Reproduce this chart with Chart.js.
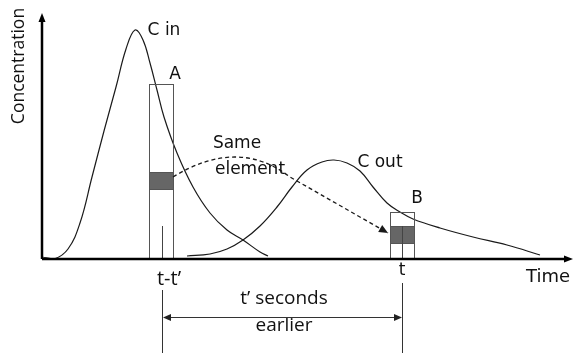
<!DOCTYPE html>
<html>
<head>
<meta charset="utf-8">
<script src="https://cdn.jsdelivr.net/npm/chart.js@4"></script>
<style>
  html, body { margin: 0; padding: 0; background: #fff; }
  #wrap { width: 574px; height: 353px; }
</style>
</head>
<body>
<div id="wrap"><canvas id="diagram"></canvas></div>
<script>
// curve values (time, concentration)
const cInTime = [0, 12, 26, 38, 50, 62, 74, 84, 93, 101, 108, 115, 122, 135, 151, 168, 185, 201, 218, 226];
const cInConc = [2, 0, 10, 36, 82, 128, 172, 210, 229, 219, 196, 169, 142, 106, 72, 46, 29, 19, 7, 3];
const cOutTime = [145, 168, 185, 201, 218, 235, 250, 265, 280, 292, 305, 318, 331, 345, 358, 371, 398, 431, 465, 498];
const cOutConc = [3, 5, 10, 19, 33, 52, 72, 89, 97, 99, 96, 88, 72, 56, 47, 40, 31, 22, 14, 4];

// sampling windows: [left, right] in time, top, and the shaded element [low, high]
const windowA = [107, 131];
const windowATop = 175;
const elementA = [70, 87];
const timeA = 120;
const windowB = [348, 372];
const windowBTop = 47;
const elementB = [16, 33];
const timeB = 360;

const toPoints = (xs, ys) => xs.map((x, i) => ({ x, y: ys[i] }));

const ink = "#1a1a1a";

const diagramPlugin = {
  id: "diagram",
  afterDatasetsDraw(chart) {
    const { ctx, chartArea, scales } = chart;
    const X = (v) => scales.x.getPixelForValue(v);
    const Y = (v) => scales.y.getPixelForValue(v);
    const base = chartArea.bottom;
    ctx.save();

    // windows
    const drawWindow = (win, top, el, t, fullLine) => {
      ctx.fillStyle = "#666";
      ctx.fillRect(X(win[0]), Y(el[1]), X(win[1]) - X(win[0]), Y(el[0]) - Y(el[1]));
      ctx.strokeStyle = "#555";
      ctx.lineWidth = 1;
      ctx.strokeRect(X(win[0]) + 0.5, Y(top) + 0.5, X(win[1]) - X(win[0]), Y(0) - Y(top));
      ctx.beginPath();
      ctx.moveTo(X(win[0]) + 0.5, Y(el[1]) + 0.5);
      ctx.lineTo(X(win[1]) + 0.5, Y(el[1]) + 0.5);
      ctx.moveTo(X(win[0]) + 0.5, Y(el[0]) + 0.5);
      ctx.lineTo(X(win[1]) + 0.5, Y(el[0]) + 0.5);
      ctx.stroke();
      ctx.strokeStyle = "#444";
      ctx.beginPath();
      ctx.moveTo(X(t) + 0.5, fullLine ? Y(el[1]) : Y(33));
      ctx.lineTo(X(t) + 0.5, Y(0));
      ctx.stroke();
    };
    drawWindow(windowA, windowATop, elementA, timeA, false);
    drawWindow(windowB, windowBTop, elementB, timeB, true);

    const arrowHead = (x, y, ang, len, w) => {
      ctx.beginPath();
      ctx.moveTo(x, y);
      ctx.lineTo(x - len * Math.cos(ang) + w * Math.sin(ang), y - len * Math.sin(ang) - w * Math.cos(ang));
      ctx.lineTo(x - len * Math.cos(ang) - w * Math.sin(ang), y - len * Math.sin(ang) + w * Math.cos(ang));
      ctx.closePath();
      ctx.fill();
    };

    // dashed "same element" path
    ctx.strokeStyle = ink;
    ctx.fillStyle = ink;
    ctx.lineWidth = 1.3;
    ctx.setLineDash([4, 3]);
    const sx = X(windowA[1]), sy = Y(82);
    const mx = X(248), my = Y(82);
    const ex = X(windowB[0]) - 2, ey = Y(26);
    ctx.beginPath();
    ctx.moveTo(sx, sy);
    ctx.quadraticCurveTo(X(196), Y(122), mx, my);
    ctx.lineTo(ex, ey);
    ctx.stroke();
    ctx.setLineDash([]);
    arrowHead(ex, ey, Math.atan2(ey - my, ex - mx), 9, 4);

    // axes
    ctx.strokeStyle = "#000";
    ctx.lineWidth = 2.5;
    ctx.beginPath();
    ctx.moveTo(chartArea.left, base);
    ctx.lineTo(chartArea.left, chartArea.top + 6);
    ctx.moveTo(chartArea.left, base);
    ctx.lineTo(chartArea.right - 6, base);
    ctx.stroke();
    ctx.fillStyle = "#000";
    arrowHead(chartArea.left, chartArea.top, -Math.PI / 2, 9, 3.5);
    arrowHead(chartArea.right, base, 0, 9, 3.5);

    // labels
    ctx.fillStyle = "#111";
    ctx.textAlign = "center";
    ctx.textBaseline = "middle";
    ctx.font = "17px 'DejaVu Sans'";
    ctx.fillText("C in", X(122), Y(228));
    ctx.fillText("A", X(133), Y(184));
    ctx.fillText("Same", X(195), Y(115));
    ctx.fillText("element", X(208), Y(89));
    ctx.fillText("C out", X(338), Y(96));
    ctx.fillText("B", X(375), Y(60));
    ctx.fillText("t", X(timeB), base + 12);
    ctx.font = "18px 'DejaVu Sans'";
    ctx.fillText("Time", X(506), base + 18);
    ctx.font = "20px 'Open Sans'";
    ctx.fillText("t-t\u2019", X(timeA) + 7, base + 20);
    ctx.font = "19px 'Open Sans'";
    ctx.fillText("t\u2019 seconds", X(242), base + 40);
    ctx.fillText("earlier", X(242), base + 67);
    ctx.save();
    ctx.translate(19, 66);
    ctx.rotate(-Math.PI / 2);
    ctx.font = "17.5px 'Open Sans'";
    ctx.fillText("Concentration", 0, 0);
    ctx.restore();

    // "t' seconds earlier" dimension
    ctx.strokeStyle = "#333";
    ctx.fillStyle = "#222";
    ctx.lineWidth = 1;
    ctx.beginPath();
    ctx.moveTo(X(timeA) + 0.5, base + 31);
    ctx.lineTo(X(timeA) + 0.5, 353);
    ctx.moveTo(X(timeB) + 0.5, base + 24);
    ctx.lineTo(X(timeB) + 0.5, 353);
    const dy = base + 58.5;
    ctx.moveTo(X(timeA) + 6, dy);
    ctx.lineTo(X(timeB) - 6, dy);
    ctx.stroke();
    arrowHead(X(timeA) + 1, dy, Math.PI, 8, 3.5);
    arrowHead(X(timeB), dy, 0, 8, 3.5);

    ctx.restore();
  },
};

new Chart(document.getElementById("diagram"), {
  type: "line",
  data: {
    datasets: [
      {
        label: "C in",
        data: toPoints(cInTime, cInConc),
        borderColor: ink,
        borderWidth: 1.2,
        pointRadius: 0,
        tension: 0.4,
      },
      {
        label: "C out",
        data: toPoints(cOutTime, cOutConc),
        borderColor: ink,
        borderWidth: 1.2,
        pointRadius: 0,
        tension: 0.4,
      },
    ],
  },
  options: {
    responsive: true,
    maintainAspectRatio: false,
    animation: false,
    layout: { padding: { left: 42, right: 1, top: 13, bottom: 94 } },
    scales: {
      x: { type: "linear", min: 0, max: 531, display: false },
      y: { type: "linear", min: 0, max: 246, display: false },
    },
    plugins: {
      legend: { display: false },
      tooltip: { enabled: false },
    },
  },
  plugins: [diagramPlugin],
});
</script>
</body>
</html>
